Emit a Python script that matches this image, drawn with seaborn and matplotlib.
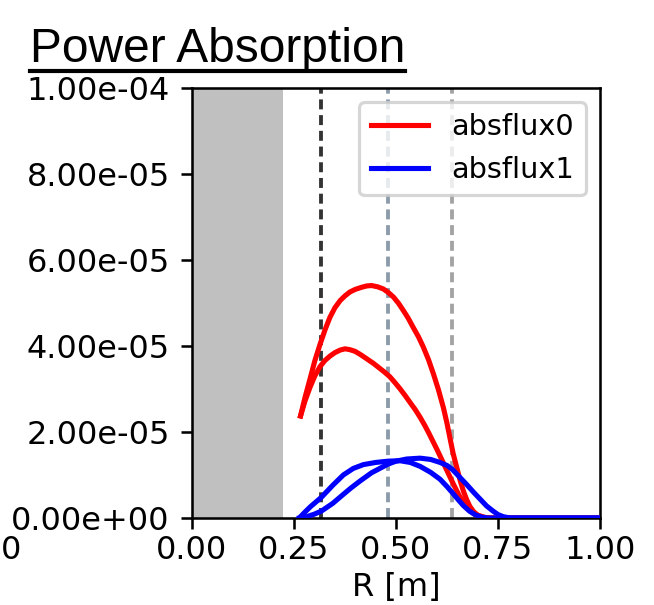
import matplotlib
matplotlib.use("Agg")
import matplotlib.pyplot as plt
from matplotlib import font_manager
from matplotlib.ticker import FormatStrFormatter
from matplotlib.lines import Line2D
import seaborn as sns
import pandas as pd

# absflux0: power absorbed along the ray, outgoing (upper) and returning (lower) branches
r0_upper = [0.266, 0.277, 0.289, 0.301, 0.314, 0.326, 0.338, 0.350, 0.363, 0.375, 0.387, 0.400,
            0.416, 0.428, 0.440, 0.455, 0.469, 0.481, 0.494, 0.506, 0.518, 0.530, 0.542, 0.555,
            0.567, 0.580, 0.592, 0.604, 0.616, 0.625, 0.632, 0.640, 0.649, 0.657, 0.665, 0.673,
            0.681, 0.690, 0.700, 0.715, 0.730, 1.000]
p0_upper = [23.7e-6, 28.0e-6, 32.2e-6, 36.5e-6, 40.4e-6, 43.7e-6, 46.6e-6, 48.8e-6, 50.5e-6,
            51.6e-6, 52.5e-6, 53.1e-6, 53.6e-6, 53.9e-6, 54.0e-6, 53.7e-6, 53.2e-6, 52.4e-6,
            51.3e-6, 49.9e-6, 48.2e-6, 46.4e-6, 44.3e-6, 42.1e-6, 39.7e-6, 36.7e-6, 33.4e-6,
            29.8e-6, 25.7e-6, 22.0e-6, 18.7e-6, 15.0e-6, 11.7e-6, 8.8e-6, 6.3e-6, 4.3e-6,
            2.7e-6, 1.5e-6, 0.7e-6, 0.2e-6, 0.0, 0.0]
r0_lower = [0.266, 0.277, 0.289, 0.301, 0.314, 0.326, 0.338, 0.350, 0.363, 0.375, 0.387, 0.400,
            0.414, 0.428, 0.445, 0.461, 0.473, 0.485, 0.497, 0.510, 0.522, 0.534, 0.547, 0.559,
            0.570, 0.580, 0.590, 0.600, 0.610, 0.620, 0.630, 0.640, 0.648, 0.655, 0.663, 0.670,
            0.678, 0.685, 0.693, 0.700, 0.715, 0.730, 1.000]
p0_lower = [23.7e-6, 27.2e-6, 30.3e-6, 33.0e-6, 35.2e-6, 36.6e-6, 37.6e-6, 38.4e-6, 39.0e-6,
            39.3e-6, 39.1e-6, 38.7e-6, 37.9e-6, 37.0e-6, 35.9e-6, 34.7e-6, 33.8e-6, 32.8e-6,
            31.5e-6, 30.0e-6, 28.5e-6, 26.9e-6, 25.2e-6, 23.4e-6, 21.6e-6, 19.8e-6, 17.9e-6,
            16.0e-6, 14.0e-6, 12.0e-6, 10.0e-6, 8.0e-6, 6.5e-6, 5.2e-6, 4.0e-6, 3.0e-6,
            2.1e-6, 1.4e-6, 0.9e-6, 0.5e-6, 0.15e-6, 0.0, 0.0]

# absflux1
r1_a = [0.263, 0.275, 0.290, 0.317, 0.345, 0.371, 0.395, 0.420, 0.450, 0.480, 0.510, 0.535,
        0.559, 0.585, 0.608, 0.625, 0.638, 0.652, 0.665, 0.680, 0.695, 0.710, 0.725, 1.000]
p1_a = [0.0, 1.2e-6, 2.6e-6, 4.8e-6, 7.6e-6, 10.0e-6, 11.5e-6, 12.4e-6, 12.9e-6, 13.2e-6,
        13.3e-6, 12.9e-6, 12.0e-6, 10.6e-6, 9.0e-6, 7.3e-6, 5.9e-6, 4.3e-6, 2.9e-6, 1.6e-6,
        0.7e-6, 0.2e-6, 0.0, 0.0]
r1_b = [0.263, 0.281, 0.300, 0.317, 0.345, 0.371, 0.390, 0.412, 0.440, 0.480, 0.500, 0.526,
        0.559, 0.585, 0.608, 0.625, 0.638, 0.655, 0.673, 0.690, 0.706, 0.722, 0.738, 0.750,
        0.763, 0.780, 1.000]
p1_b = [0.0, 0.3e-6, 0.9e-6, 1.6e-6, 3.4e-6, 5.5e-6, 7.0e-6, 8.6e-6, 10.5e-6, 12.5e-6,
        13.2e-6, 13.7e-6, 13.9e-6, 13.6e-6, 12.9e-6, 12.2e-6, 11.3e-6, 9.6e-6, 7.8e-6, 6.0e-6,
        4.4e-6, 2.8e-6, 1.6e-6, 0.8e-6, 0.3e-6, 0.0, 0.0]

series_names = ["absflux0", "absflux1"]
series_colors = ["red", "blue"]

# radial markers and excluded inner region
inner_edge = 0.224
marker_r = [0.317, 0.480, 0.638]
marker_colors = ["#333333", "#8c9bab", "#a3a3a3"]

x_ticks = [0.0, 0.25, 0.5, 0.75, 1.0]
y_ticks = [0.0, 2e-5, 4e-5, 6e-5, 8e-5, 1e-4]

frames = []
for name, branch, r, p in [
    ("absflux0", "u", r0_upper, p0_upper),
    ("absflux0", "l", r0_lower, p0_lower),
    ("absflux1", "a", r1_a, p1_a),
    ("absflux1", "b", r1_b, p1_b),
]:
    frames.append(pd.DataFrame({"R": r, "P": p, "series": name, "branch": name + branch}))
df = pd.concat(frames, ignore_index=True)

names = {f.name for f in font_manager.fontManager.ttflist}
if "Liberation Sans Narrow" in names:
    title_font, title_size = "Liberation Sans Narrow", 18.2
else:
    title_font, title_size = "Liberation Sans", 15.0

LW = 1.6
DPI = 230
fig = plt.figure(figsize=(654 / DPI, 605 / DPI), dpi=DPI)
ax = fig.add_axes([192 / 654, 87 / 605, 408 / 654, 430.5 / 605])

ax.axvspan(0, inner_edge, color="#c0c0c0", lw=0, zorder=0)
for xr, c in zip(marker_r, marker_colors):
    ax.axvline(xr, color=c, lw=1.2, linestyle=(0, (2.6, 1.5)), zorder=1)

sns.lineplot(
    data=df, x="R", y="P", hue="series", units="branch", estimator=None,
    sort=False, hue_order=series_names,
    palette=dict(zip(series_names, series_colors)), lw=LW, ax=ax,
    legend=False, zorder=3,
)

handles = [Line2D([], [], color=c, lw=LW) for c in series_colors]
ax.legend(handles, series_names, loc="upper right", fontsize=9)

ax.set_xlim(0, 1)
ax.set_ylim(0, 1e-4)
ax.set_xticks(x_ticks)
ax.set_yticks(y_ticks)
ax.xaxis.set_major_formatter(FormatStrFormatter("%.2f"))
ax.yaxis.set_major_formatter(FormatStrFormatter("%.2e"))
ax.tick_params(axis="x", pad=1.8)
ax.set_xlabel("R [m]", labelpad=2)
ax.set_ylabel("")

title = fig.text(30 / 654, 1 - 61.5 / 605, "Power Absorption", family=title_font,
                 fontsize=title_size, ha="left", va="baseline")

fig.canvas.draw()
renderer = fig.canvas.get_renderer()
bb = title.get_window_extent(renderer)
uy = 1 - 71 / 605
fig.add_artist(Line2D([bb.x0 / fig.bbox.width, bb.x1 / fig.bbox.width], [uy, uy],
                      color="black", lw=1.3, transform=fig.transFigure))

# tick label of the neighbouring panel, cut by the left edge
tl = ax.get_xticklabels()[0].get_window_extent(renderer)
fig.text(22 / 654, tl.y1 / fig.bbox.height, "1.00", ha="right", va="top", fontsize=10)

fig.savefig("out.png", dpi=DPI)
